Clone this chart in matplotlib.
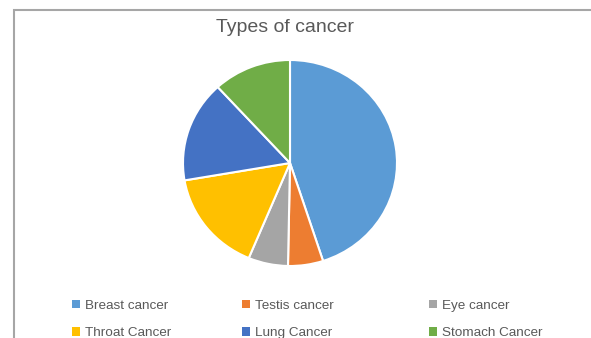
import matplotlib.pyplot as plt
from matplotlib.patches import Rectangle

# Dados do gráfico (percentuais)
categorias = ["Breast cancer", "Testis cancer", "Eye cancer",
              "Throat Cancer", "Lung Cancer", "Stomach Cancer"]
valores = [45.0, 5.3, 6.0, 16.0, 15.9, 11.8]
cores = ["#5B9BD5", "#ED7D31", "#A5A5A5", "#FFC000", "#4472C4", "#70AD47"]

plt.rcParams['font.family'] = ['Liberation Sans', 'DejaVu Sans']
cinza_texto = "#595959"

fig = plt.figure(figsize=(5.91, 3.38), dpi=100)

# Moldura do gráfico (estilo Excel, cortada à direita e embaixo)
moldura = Rectangle((13.5 / 591, -0.1), 1.2, 1.1 - 10.5 / 338 + 0.001,
                    transform=fig.transFigure, fill=False,
                    edgecolor="#A6A6A6", linewidth=1.5)
fig.patches.append(moldura)

ax = fig.add_axes([183 / 591, 72 / 338, 214 / 591, 206 / 338])
fatias, _ = ax.pie(valores, colors=cores, startangle=90, counterclock=False,
                   wedgeprops=dict(edgecolor="white", linewidth=1.5))
ax.set_aspect('auto')
ax.set_xlim(-1, 1)
ax.set_ylim(-1, 1)
ax.axis('off')

fig.text(285 / 591, 1 - 28 / 338, "Types of cancer", ha="center", va="center",
         fontsize=14, color=cinza_texto)

# Legenda: uma coluna por vez, para acertar o espaçamento
colunas = [[0, 3], [1, 4], [2, 5]]
x_colunas = [72, 242, 429]
for idx, x in zip(colunas, x_colunas):
    leg = fig.legend([fatias[i] for i in idx], [categorias[i] for i in idx],
                     loc="center left", bbox_to_anchor=(x / 591, 1 - 319.5 / 338),
                     frameon=False, fontsize=9.7, handlelength=0.6, handleheight=0.6,
                     handletextpad=0.4, labelspacing=1.12, borderpad=0,
                     borderaxespad=0)
    for t in leg.get_texts():
        t.set_color(cinza_texto)
    for h in leg.legend_handles:
        h.set_edgecolor("none")

plt.savefig("out.png", dpi=100)
